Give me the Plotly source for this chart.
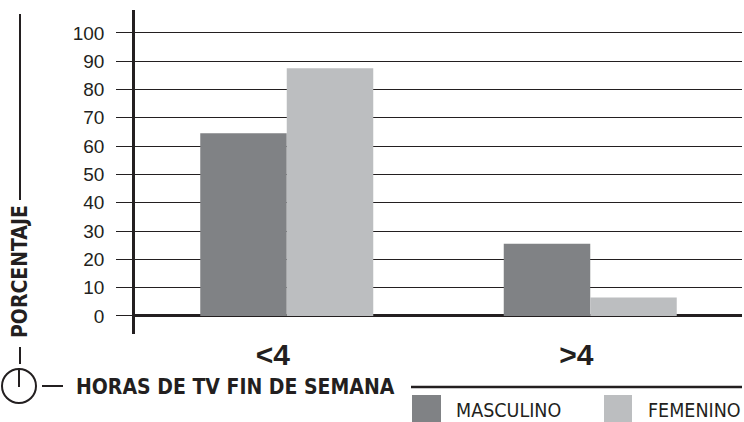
import plotly.graph_objects as go

# ---- data ----
categories = ["<4", ">4"]
masculino = [64.5, 25.5]
femenino = [87.5, 6.5]
series_names = ["MASCULINO", "FEMENINO"]
y_tick_values = [0, 10, 20, 30, 40, 50, 60, 70, 80, 90, 100]
y_title = "PORCENTAJE"
x_title = "HORAS DE TV FIN DE SEMANA"

# ---- style ----
W, H = 744, 422
ML, MR, MT, MB = 135, 2, 10, 88
PW, PH = W - ML - MR, H - MT - MB
DARK = "#808285"
LIGHT = "#bcbec0"
INK = "#231f20"
NARROW = "Liberation Sans Narrow, DejaVu Sans Condensed, Arial Narrow, sans-serif"
SANS = "Liberation Sans, Arial, sans-serif"


def px(x):
    return (x - ML) / PW


def py(y):
    return (H - MB - y) / PH


fig = go.Figure()
fig.add_trace(go.Bar(x=categories, y=masculino, name=series_names[0],
                     marker=dict(color=DARK, line=dict(width=0)), showlegend=False))
fig.add_trace(go.Bar(x=categories, y=femenino, name=series_names[1],
                     marker=dict(color=LIGHT, line=dict(width=0)), showlegend=False))

line = dict(color=INK, width=2)
shapes = [
    dict(type="line", xref="paper", yref="paper", x0=px(20), x1=px(20), y0=py(14), y1=py(200), line=line),
    dict(type="line", xref="paper", yref="paper", x0=px(20), x1=px(20), y0=py(347), y1=py(364), line=line),
    dict(type="circle", xref="paper", yref="paper", x0=px(2), x1=px(36), y0=py(403), y1=py(369), line=line),
    dict(type="line", xref="paper", yref="paper", x0=px(19), x1=px(19), y0=py(369), y1=py(387), line=line),
    dict(type="line", xref="paper", yref="paper", x0=px(42), x1=px(63), y0=py(386), y1=py(386), line=line),
    dict(type="line", xref="paper", yref="paper", x0=px(411), x1=px(742), y0=py(387), y1=py(387),
         line=dict(color=INK, width=2.5)),
    dict(type="rect", xref="paper", yref="paper", x0=px(412), x1=px(441), y0=py(430), y1=py(395),
         fillcolor=DARK, line=dict(width=0)),
    dict(type="rect", xref="paper", yref="paper", x0=px(604), x1=px(632), y0=py(430), y1=py(395),
         fillcolor=LIGHT, line=dict(width=0)),
]

annotations = [
    dict(text=y_title, xref="paper", yref="paper", x=px(20), y=py(272), showarrow=False,
         textangle=-90, xanchor="center", yanchor="middle",
         font=dict(family=NARROW, size=21, color=INK, weight="bold")),
    dict(text=x_title, xref="paper", yref="paper", x=px(74), y=py(387), showarrow=False,
         xanchor="left", yanchor="middle",
         font=dict(family=NARROW, size=21, color=INK, weight="bold")),
    dict(text=series_names[0], xref="paper", yref="paper", x=px(454), y=py(410), showarrow=False,
         xanchor="left", yanchor="middle",
         font=dict(family=NARROW, size=19.5, color=INK)),
    dict(text=series_names[1], xref="paper", yref="paper", x=px(646), y=py(410), showarrow=False,
         xanchor="left", yanchor="middle",
         font=dict(family=NARROW, size=19.5, color=INK)),
]

fig.update_layout(
    width=W, height=H,
    margin=dict(l=ML, r=MR, t=MT, b=MB, pad=0),
    paper_bgcolor="white", plot_bgcolor="white",
    barmode="group", bargap=0.43, bargroupgap=0,
    showlegend=False,
    shapes=shapes, annotations=annotations,
    xaxis=dict(type="category", categoryorder="array", categoryarray=categories,
               range=[-0.5, 1.5], showline=False, showgrid=False, zeroline=False,
               ticks="", ticklabelshift=-14, ticklabelstandoff=0,
               tickfont=dict(family=SANS, size=30, color=INK, weight="bold")),
    yaxis=dict(range=[-6.4, 108.1], tickmode="array", tickvals=y_tick_values,
               showgrid=True, gridcolor=INK, gridwidth=1.4,
               zeroline=True, zerolinecolor=INK, zerolinewidth=2.5,
               showline=True, linecolor=INK, linewidth=2.5,
               ticks="outside", ticklen=16, tickwidth=1.4, tickcolor=INK,
               ticklabelstandoff=8,
               tickfont=dict(family=SANS, size=19, color=INK)),
)

fig.write_html("out.html", config={"displayModeBar": False},
               post_script="document.body.style.margin='0px';document.body.style.overflow='hidden';")
